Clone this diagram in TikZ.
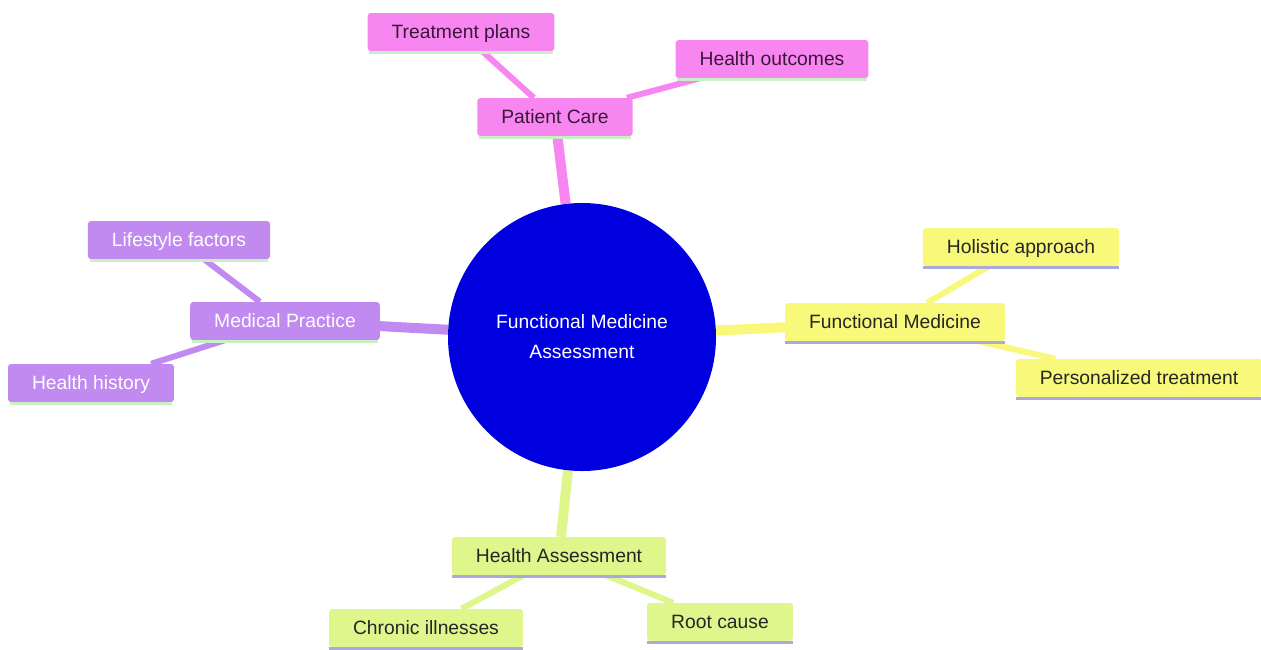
\documentclass[tikz,border=0pt]{standalone}
\usepackage{fontspec}
\setmainfont{Liberation Sans}
\usepackage{tikz}
\usetikzlibrary{backgrounds}

\definecolor{pinkfill}{RGB}{248,134,240}
\definecolor{purplefill}{RGB}{192,138,240}
\definecolor{yellowfill}{RGB}{248,248,122}
\definecolor{greenfill}{RGB}{222,246,140}
\definecolor{rootblue}{RGB}{0,0,222}
\definecolor{pinktext}{RGB}{60,22,58}
\definecolor{lavline}{RGB}{170,168,222}
\definecolor{mintline}{RGB}{200,240,196}

\begin{document}
\begin{tikzpicture}[x=1pt,y=-1pt]
  \tikzstyle{blk}=[rectangle,rounded corners=3pt,minimum height=38pt,inner xsep=24pt,text height=13pt,text depth=0pt,font=\fontsize{19.3}{23}\selectfont]
  \tikzstyle{rootc}=[circle,fill=rootblue,minimum size=268pt,inner sep=0pt,align=center,text=white,font=\fontsize{19.3}{30}\selectfont]
  \tikzstyle{trunk}=[line width=10pt]
  \tikzstyle{twig}=[line width=6pt]
  \tikzstyle{uline}=[line width=3pt]

  \useasboundingbox (0,0) rectangle (1261,649);

  % centre
  \node[rootc] (root) at (582,337) {Functional Medicine\\Assessment};

  % Patient Care
  \node[blk,fill=pinkfill,text=pinktext] (pc) at (555,117) {Patient Care};
  \node[blk,fill=pinkfill,text=pinktext] (tp) at (461,32) {Treatment plans};
  \node[blk,fill=pinkfill,text=pinktext] (ho) at (772,59) {Health outcomes};

  % Medical Practice
  \node[blk,fill=purplefill,text=white] (mp) at (285,321) {Medical Practice};
  \node[blk,fill=purplefill,text=white] (lf) at (179,240) {Lifestyle factors};
  \node[blk,fill=purplefill,text=white] (hh) at (91,383) {Health history};

  % Functional Medicine
  \node[blk,fill=yellowfill,text=black!85] (fm) at (895,322) {Functional Medicine};
  \node[blk,fill=yellowfill,text=black!85] (ha) at (1021,247) {Holistic approach};
  \node[blk,fill=yellowfill,text=black!85] (pt) at (1139,378) {Personalized treatment};

  % Health Assessment
  \node[blk,fill=greenfill,text=black!85] (as) at (559,556) {Health Assessment};
  \node[blk,fill=greenfill,text=black!85] (ci) at (426,628) {Chronic illnesses};
  \node[blk,fill=greenfill,text=black!85] (rc) at (720,622) {Root cause};

  \begin{scope}[on background layer]
    \draw[trunk,pinkfill] (root) -- (pc);
    \draw[twig,pinkfill] (pc) -- (tp);
    \draw[twig,pinkfill] (pc) -- (ho);
    \draw[trunk,purplefill] (root) -- (mp);
    \draw[twig,purplefill] (mp) -- (lf);
    \draw[twig,purplefill] (mp) -- (hh);
    \draw[trunk,yellowfill] (root) -- (fm);
    \draw[twig,yellowfill] (fm) -- (ha);
    \draw[twig,yellowfill] (fm) -- (pt);
    \draw[trunk,greenfill] (root) -- (as);
    \draw[twig,greenfill] (as) -- (ci);
    \draw[twig,greenfill] (as) -- (rc);
  \end{scope}

  % underlines
  \foreach \n in {pc,tp,ho,mp,lf,hh}
    \draw[uline,mintline] ([xshift=2pt,yshift=-1.5pt]\n.south west) -- ([xshift=-2pt,yshift=-1.5pt]\n.south east);
  \foreach \n in {fm,ha,pt,as,ci,rc}
    \draw[uline,lavline] ([yshift=-1.5pt]\n.south west) -- ([yshift=-1.5pt]\n.south east);
\end{tikzpicture}
\end{document}
